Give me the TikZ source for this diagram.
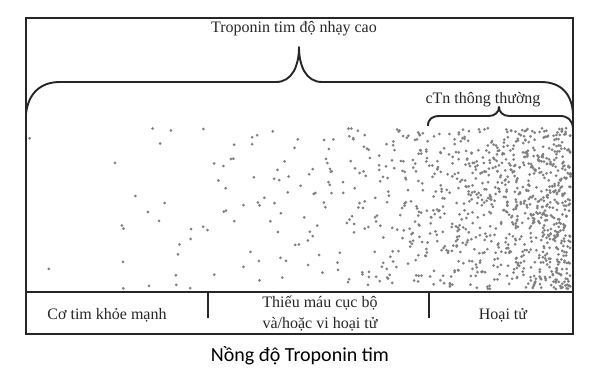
\documentclass[tikz,border=0pt]{standalone}
\usepackage{fontspec}
\setmainfont{Liberation Serif}
\newfontfamily\calibfont{Carlito}
\begin{document}
\begin{tikzpicture}[x=1pt,y=-1pt,
  frame/.style={line width=2pt, black!85},
  bracel/.style={line width=1.9pt, black!85, line join=round},
  lbl/.style={font=\fontsize{16}{19}\selectfont, inner sep=0pt, text=black!85},
  axislbl/.style={font=\calibfont\fontsize{20}{24}\selectfont, inner sep=0pt},
  dotc/.style={fill=black!50}]
\useasboundingbox (0,0) rectangle (600,374);
% frame
\coordinate (tl) at (26,18);
\coordinate (br) at (573,334);
\coordinate (sl) at (26,292);
\coordinate (sr) at (573,292);
\draw[frame] (tl) rectangle (br);
\draw[frame] (sl) -- (sr);
\coordinate (d1t) at (208,292); \coordinate (d1b) at (208,318);
\coordinate (d2t) at (429,292); \coordinate (d2b) at (429,318);
\draw[frame] (d1t) -- (d1b);
\draw[frame] (d2t) -- (d2b);
% dots
\pgfmathsetseed{11}
\foreach \i in {1,...,1050}{
  \pgfmathsetmacro\u{0.0035+0.9965*rnd}
  \pgfmathsetmacro\xx{571+ln(\u)/0.0104}
  \pgfmathsetmacro\yy{128+161*rnd}
  \fill[dotc] (\xx,\yy) circle (1.5pt);
}
% big brace
\draw[bracel] (26,114) .. controls (28,94) and (40,82) .. (60,82) -- (276,82)
  .. controls (292,82) and (299,66) .. (299,47)
  .. controls (299,66) and (306,82) .. (322,82) -- (541,82)
  .. controls (561,82) and (572,94) .. (573,114);
% small brace
\draw[bracel] (428,126) .. controls (428,119) and (432,116) .. (440,116) -- (489,116)
  .. controls (495,116) and (499,112) .. (499,107)
  .. controls (499,112) and (503,116) .. (509,116) -- (560,116)
  .. controls (568,116) and (572,120) .. (573,128);
% labels
\node[lbl] (hs) at (294,29) {Troponin tim độ nhạy cao};
\node[lbl] (ctn) at (483,100) {cTn thông thường};
\node[lbl] (c1) at (107,315) {Cơ tim khỏe mạnh};
\node[lbl] (c2a) at (320,303) {Thiếu máu cục bộ};
\node[lbl] (c2b) at (320,324) {và/hoặc vi hoại tử};
\node[lbl] (c3) at (503,315) {Hoại tử};
\node[axislbl] (ax) at (300,356) {Nồng độ Troponin tim};
\end{tikzpicture}
\end{document}
